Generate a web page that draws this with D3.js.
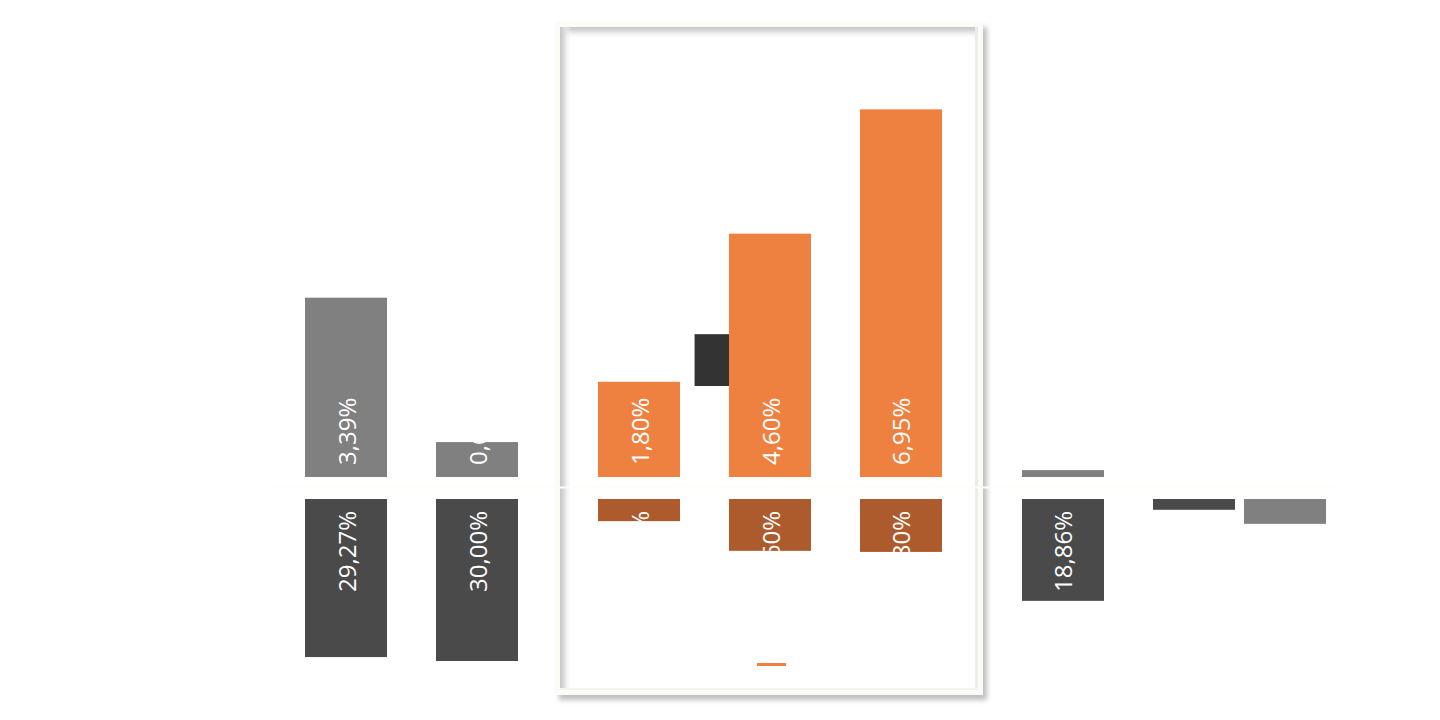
<!DOCTYPE html>
<html>
<head>
<meta charset="utf-8">
<script src="https://cdn.jsdelivr.net/npm/d3@7"></script>
<style>
  body { margin: 0; background: #fff; }
  svg { display: block; }
  text { font-family: "Open Sans", "Noto Sans", sans-serif; }
</style>
</head>
<body>
<svg id="chart" width="1440" height="720"></svg>
<script>
// categories (labels are not shown in the picture)
const categories = ["K1", "K2", "K3", "K4", "K5", "K6", "K7"];
const highlighted = ["K3", "K4", "K5"];

// upper panel, percent
const topValues = [3.39, 0.66, 1.80, 4.60, 6.95, 0.13, null];
// dark range marker sitting behind the K4 bar
const markerCat = "K4";
const markerRange = [1.72, 2.70];

// lower panel, percent (drawn downwards)
const bottomValues = [29.27, 30.00, 4.10, 9.60, 9.80, 18.86, 2.00];
// second lower series, only K7 has a value (no label shown)
const bottomValues2 = [null, null, null, null, null, null, 4.60];

const colGray = "#808080", colDark = "#4a4a4a", colOrange = "#ee8140",
      colBrown = "#ad5b2c", colMarker = "#333333";

const svg = d3.select("#chart");
const fmt = d3.formatLocale({decimal: ",", thousands: ".", grouping: [3], currency: ["", "€"]}).format(".2f");

// x: band scale + extra room around the highlighted group
const left = 305, groupGap = 31;
const x = d3.scaleBand().domain(categories).range([0, 868]).paddingInner(0.374);
const bw = x.bandwidth();
const hiFirst = categories.indexOf(highlighted[0]);
const hiLast = categories.indexOf(highlighted[highlighted.length - 1]);
const xPos = c => {
  const i = categories.indexOf(c);
  const grp = i < hiFirst ? 0 : (i <= hiLast ? 1 : 2);
  return left + x(c) + grp * groupGap;
};

// y scales
const yTop = d3.scaleLinear().domain([0, 7]).range([477, 106.7]);
const yBot = d3.scaleLinear().domain([0, 30]).range([499, 661]);

// ---- frame around highlighted group
const defs = svg.append("defs");
const f = defs.append("filter").attr("id", "drop").attr("x", "-5%").attr("y", "-5%").attr("width", "115%").attr("height", "115%");
f.append("feDropShadow").attr("dx", 4).attr("dy", 5).attr("stdDeviation", 2.5)
  .attr("flood-color", "#000").attr("flood-opacity", 0.25);

function fade(id, horiz) {
  const g = defs.append("linearGradient").attr("id", id)
    .attr("x1", 0).attr("y1", 0).attr("x2", horiz ? 1 : 0).attr("y2", horiz ? 0 : 1);
  g.append("stop").attr("offset", "0%").attr("stop-color", "#c6c6c6");
  g.append("stop").attr("offset", "30%").attr("stop-color", "#d8d8d8");
  g.append("stop").attr("offset", "100%").attr("stop-color", "#fff").attr("stop-opacity", 0);
}
fade("insetTop", false);
fade("insetLeft", true);

const framePad = 43, frameTop = 22, frameBottom = 695, border = 5;
const fx0 = xPos(highlighted[0]) - framePad;
const fx1 = xPos(highlighted[highlighted.length - 1]) + bw + framePad - 2;
const innerW = fx1 - fx0 - 2 * border, innerH = frameBottom - frameTop - 2 * border;

const frame = svg.append("g");
frame.append("rect")
  .attr("x", fx0).attr("y", frameTop)
  .attr("width", fx1 - fx0).attr("height", frameBottom - frameTop)
  .attr("fill", "#fcfcf7").attr("filter", "url(#drop)");
frame.append("rect")
  .attr("x", fx0 + border).attr("y", frameTop + border)
  .attr("width", innerW).attr("height", innerH)
  .attr("fill", "#fff");
frame.append("rect")
  .attr("x", fx0 + border).attr("y", frameTop + border)
  .attr("width", innerW).attr("height", 12)
  .attr("fill", "url(#insetTop)");
frame.append("rect")
  .attr("x", fx0 + border).attr("y", frameTop + border)
  .attr("width", 12).attr("height", innerH)
  .attr("fill", "url(#insetLeft)");
frame.append("rect")
  .attr("x", fx1 - border - 3).attr("y", frameTop + border)
  .attr("width", 3).attr("height", innerH)
  .attr("fill", "#ececea");
frame.append("rect")
  .attr("x", fx0 + border).attr("y", frameBottom - border - 2)
  .attr("width", innerW).attr("height", 2)
  .attr("fill", "#f4f4f2");

// ---- bars
function drawBars(g, values, cls, fill, yS, down, offset, labels) {
  const data = categories.map((c, i) => ({c, v: values[i], i})).filter(d => d.v != null);
  const base = yS(0);
  const bx = d => xPos(d.c) + offset;
  const by = d => down ? base : yS(d.v);
  const bh = d => Math.abs(yS(d.v) - base);

  const bars = g.selectAll("g." + cls).data(data).enter().append("g").attr("class", cls);
  bars.append("rect")
    .attr("x", bx).attr("y", by)
    .attr("width", bw).attr("height", bh)
    .attr("fill", d => typeof fill === "function" ? fill(d) : fill);
  if (!labels) return;

  // labels are clipped to their own bar
  bars.append("clipPath").attr("id", d => cls + "-clip-" + d.i)
    .append("rect")
    .attr("x", bx).attr("y", by)
    .attr("width", bw).attr("height", bh);
  bars.append("g").attr("clip-path", d => `url(#${cls}-clip-${d.i})`)
    .append("text")
    .attr("transform", d => `translate(${bx(d) + bw / 2},${down ? base + 12 : base - 12}) rotate(-90)`)
    .attr("text-anchor", down ? "end" : "start")
    .attr("dominant-baseline", "central")
    .attr("fill", "#fff")
    .attr("font-size", 24)
    .text(d => fmt(d.v) + "%");
}

const isHi = d => highlighted.includes(d.c);

// marker behind the K4 bar
svg.append("rect")
  .attr("x", xPos(markerCat) - 0.42 * bw)
  .attr("y", yTop(markerRange[1]))
  .attr("width", bw)
  .attr("height", yTop(markerRange[0]) - yTop(markerRange[1]))
  .attr("fill", colMarker);

drawBars(svg.append("g"), topValues, "top", d => isHi(d) ? colOrange : colGray, yTop, false, 0, true);
drawBars(svg.append("g"), bottomValues, "bot", d => isHi(d) ? colBrown : colDark, yBot, true, 0, true);
drawBars(svg.append("g"), bottomValues2, "bot2", colGray, yBot, true, bw * 1.11, false);

// faint separator between the panels
svg.append("line")
  .attr("x1", 273).attr("x2", 1340)
  .attr("y1", 487.5).attr("y2", 487.5)
  .attr("stroke", "#fefef8").attr("stroke-width", 2);

// small orange marker at the bottom of the frame
svg.append("line")
  .attr("x1", (fx0 + fx1) / 2 - 12).attr("x2", (fx0 + fx1) / 2 + 17)
  .attr("y1", 664.5).attr("y2", 664.5)
  .attr("stroke", colOrange).attr("stroke-width", 3);
</script>
</body>
</html>
